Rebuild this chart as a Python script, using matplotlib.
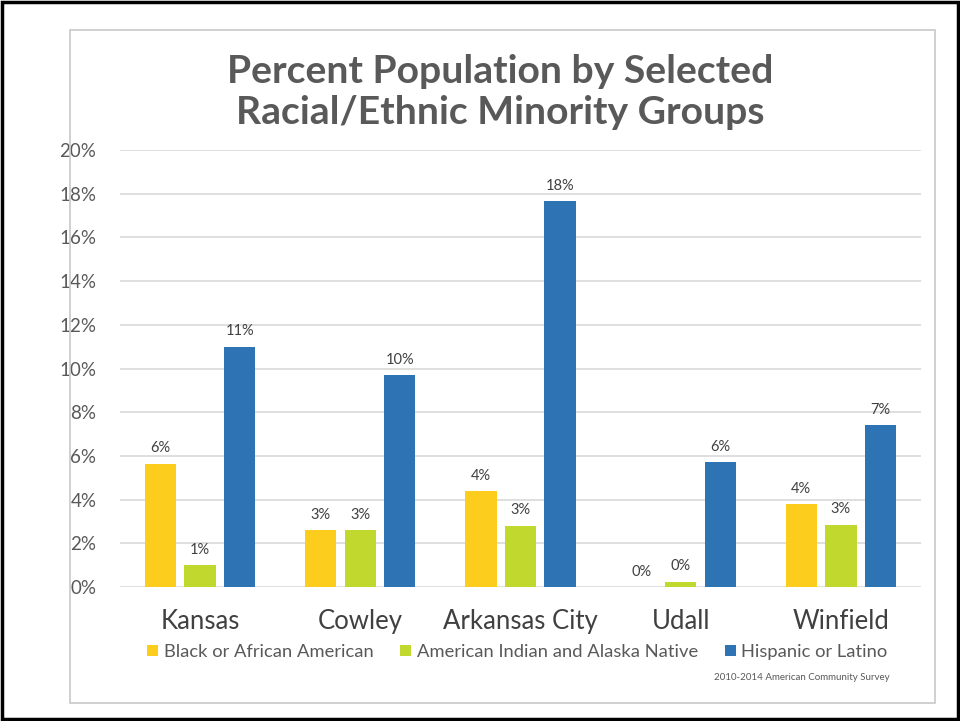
import numpy as np
import matplotlib
matplotlib.use("Agg")
import matplotlib.pyplot as plt
from matplotlib.patches import Rectangle

plt.rcParams['font.family'] = ['Lato', 'DejaVu Sans']

# data
places = ['Kansas', 'Cowley', 'Arkansas City', 'Udall', 'Winfield']
black = [5.65, 2.6, 4.4, 0.0, 3.8]
native = [1.0, 2.6, 2.8, 0.25, 2.85]
hispanic = [11.0, 9.7, 17.65, 5.7, 7.4]
series_names = ['Black or African American', 'American Indian and Alaska Native', 'Hispanic or Latino']
colors = ['#FDCD1E', '#C1D82F', '#2E74B5']
yticks = [0, 2, 4, 6, 8, 10, 12, 14, 16, 18, 20]

fig = plt.figure(figsize=(9.6, 7.21), dpi=100)

# outer black border and inner light gray chart frame
fig.patches.append(Rectangle((0.002, 0.003), 0.996, 0.994, transform=fig.transFigure,
                             fill=False, edgecolor='black', linewidth=2.5))
fig.patches.append(Rectangle((70 / 960, 1 - 703 / 721), 865 / 960, 673 / 721,
                             transform=fig.transFigure, fill=False,
                             edgecolor='#C8C8C8', linewidth=1.2))

ax = fig.add_axes([120 / 960, 1 - 587 / 721, 801 / 960, 437 / 721])

x = np.arange(len(places))
w = 0.195
step = 0.247
for i, (vals, name, c) in enumerate(zip([black, native, hispanic], series_names, colors)):
    pos = x + (i - 1) * step
    bars = ax.bar(pos, vals, width=w, color=c, label=name, zorder=3)
    for xp, v in zip(pos, vals):
        ax.annotate(f'{v:.0f}%', (xp, v), xytext=(0, 6), textcoords='offset points',
                    ha='center', va='bottom', fontsize=10.5, color='#404040')

ax.set_xlim(-0.5, len(places) - 0.5)
ax.set_ylim(0, 20)
ax.set_yticks(yticks)
ax.set_yticklabels([f'{t}%' for t in yticks], fontsize=13.5, color='#595959')
ax.set_xticks(x)
ax.set_xticklabels(places, fontsize=18.5, color='#404040')
ax.tick_params(axis='both', length=0)
ax.tick_params(axis='x', pad=16)
ax.tick_params(axis='y', pad=17)
ax.grid(axis='y', color='#D9D9D9', linewidth=1.2, zorder=0)
for s in ax.spines.values():
    s.set_visible(False)

fig.text(0.521, 1 - 92 / 721, 'Percent Population by Selected\nRacial/Ethnic Minority Groups',
         ha='center', va='center', fontsize=28.2, fontweight='bold', color='#595959',
         linespacing=1.22)

fig.legend(loc='center', bbox_to_anchor=(0.539, 1 - 652 / 721), ncol=3, frameon=False,
           fontsize=13.2, handlelength=0.6, handleheight=0.6, handletextpad=0.3,
           columnspacing=1.45, labelcolor='#595959')

fig.text(890 / 960, 1 - 677 / 721, '2010-2014 American Community Survey',
         ha='right', va='center', fontsize=7, color='#595959')

fig.savefig('out.png', dpi=100)
